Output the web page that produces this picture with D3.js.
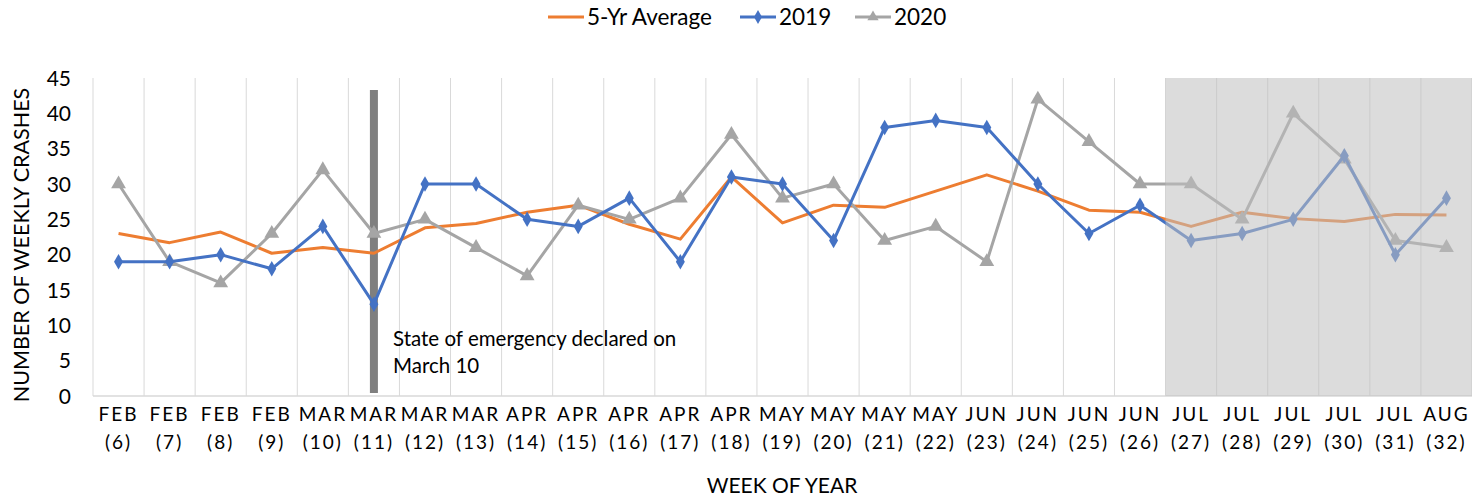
<!DOCTYPE html>
<html>
<head>
<meta charset="utf-8">
<script src="https://cdn.jsdelivr.net/npm/d3@7"></script>
<style>
  body { margin: 0; background: #fff; }
  text { font-family: Lato, "Open Sans", sans-serif; fill: #000; }
</style>
</head>
<body>
<div id="container"></div>
<script>
let w = 1472;
let h = 497;

// week labels (month + week number)
let months = ["FEB","FEB","FEB","FEB","MAR","MAR","MAR","MAR","APR","APR","APR","APR","APR",
  "MAY","MAY","MAY","MAY","JUN","JUN","JUN","JUN","JUL","JUL","JUL","JUL","JUL","AUG"];
let weeks = [6,7,8,9,10,11,12,13,14,15,16,17,18,19,20,21,22,23,24,25,26,27,28,29,30,31,32];

// series
let avg5 = [23,21.7,23.2,20.2,21,20.2,23.8,24.4,26,27,24.3,22.2,31,24.5,27,26.7,29,31.3,29,26.3,26,24,26,25.1,24.7,25.7,25.6];
let y2019 = [19,19,20,18,24,13,30,30,25,24,28,19,31,30,22,38,39,38,30,23,27,22,23,25,34,20,28];
let y2020 = [30,19,16,23,32,23,25,21,17,27,25,28,37,28,30,22,24,19,42,36,30,30,25,40,33.5,22,21];

let yTicks = [0,5,10,15,20,25,30,35,40,45];

let plotLeft = 93, plotRight = 1472, plotTop = 78, plotBottom = 396;

let viz = d3.select("#container")
  .append("svg")
    .attr("width", w)
    .attr("height", h)
    .style("background-color", "white");

let xScale = d3.scaleBand().domain(weeks).range([plotLeft, plotRight]);
let yScale = d3.scaleLinear().domain([0, 45]).range([plotBottom, plotTop]);
let cx = function(d, i){ return xScale(weeks[i]) + xScale.bandwidth() / 2; };

// vertical gridlines at band edges
let edges = weeks.map(function(d){ return xScale(d); }).concat([plotRight]);
viz.append("g").selectAll("line").data(edges).enter().append("line")
  .attr("x1", d => d).attr("x2", d => d)
  .attr("y1", plotTop).attr("y2", plotBottom)
  .attr("stroke", "#d9d9d9").attr("stroke-width", 1);

// baseline
viz.append("line")
  .attr("x1", plotLeft).attr("x2", plotRight)
  .attr("y1", plotBottom).attr("y2", plotBottom)
  .attr("stroke", "#d9d9d9").attr("stroke-width", 1.5);

// y axis labels
viz.append("g").selectAll("text").data(yTicks).enter().append("text")
  .attr("x", 71)
  .attr("y", d => yScale(d) + 7.5)
  .attr("text-anchor", "end")
  .style("font-size", "21px")
  .text(d => d);

viz.append("text")
  .attr("transform", "translate(29," + 245 + ") rotate(-90)")
  .attr("text-anchor", "middle")
  .style("font-size", "21.5px")
  .text("NUMBER OF WEEKLY CRASHES");

// x axis labels, two lines
let xl = viz.append("g").selectAll("g").data(weeks).enter().append("g")
  .attr("transform", (d, i) => "translate(" + cx(d, i) + ",0)");
xl.append("text")
  .attr("y", 421).attr("text-anchor", "middle")
  .style("font-size", "19px").style("letter-spacing", "2px")
  .text((d, i) => months[i]);
xl.append("text")
  .attr("y", 449).attr("text-anchor", "middle")
  .style("font-size", "19px").style("letter-spacing", "2px")
  .text(d => "(" + d + ")");

viz.append("text")
  .attr("x", 782).attr("y", 493)
  .attr("text-anchor", "middle")
  .style("font-size", "21px")
  .text("WEEK OF YEAR");

// state of emergency marker
let emWeek = 11;
viz.append("rect")
  .attr("x", xScale(emWeek) + xScale.bandwidth() / 2 - 4)
  .attr("y", 90)
  .attr("width", 8)
  .attr("height", plotBottom - 3 - 90)
  .attr("fill", "#7f7f7f");

viz.append("text").attr("x", 393).attr("y", 346)
  .style("font-size", "20.5px").text("State of emergency declared on");
viz.append("text").attr("x", 393).attr("y", 373)
  .style("font-size", "20.5px").text("March 10");

let line = d3.line().x(cx).y(d => yScale(d));

viz.append("path").datum(avg5)
  .attr("d", line).attr("fill", "none")
  .attr("stroke", "#ed7d31").attr("stroke-width", 3).attr("stroke-linejoin", "round");

viz.append("path").datum(y2020)
  .attr("d", line).attr("fill", "none")
  .attr("stroke", "#a5a5a5").attr("stroke-width", 3).attr("stroke-linejoin", "round");
viz.append("g").selectAll("path").data(y2020).enter().append("path")
  .attr("d", d3.symbol().type(d3.symbolTriangle).size(95))
  .attr("transform", (d, i) => "translate(" + cx(d, i) + "," + yScale(d) + ")")
  .attr("fill", "#a5a5a5");

viz.append("path").datum(y2019)
  .attr("d", line).attr("fill", "none")
  .attr("stroke", "#4472c4").attr("stroke-width", 3).attr("stroke-linejoin", "round");
viz.append("g").selectAll("path").data(y2019).enter().append("path")
  .attr("d", d3.symbol().type(d3.symbolDiamond).size(70))
  .attr("transform", (d, i) => "translate(" + cx(d, i) + "," + yScale(d) + ")")
  .attr("fill", "#4472c4");

// shaded period on top of lines
let shadeStart = 27;
viz.append("rect")
  .attr("x", xScale(shadeStart))
  .attr("y", plotTop)
  .attr("width", plotRight - xScale(shadeStart))
  .attr("height", plotBottom - plotTop)
  .attr("fill", "#bfbfbf")
  .attr("opacity", 0.55);

// legend
let legend = [
  {name: "5-Yr Average", color: "#ed7d31", sym: null, x: 548},
  {name: "2019", color: "#4472c4", sym: d3.symbolDiamond, x: 740},
  {name: "2020", color: "#a5a5a5", sym: d3.symbolTriangle, x: 855}
];
let lg = viz.append("g").selectAll("g").data(legend).enter().append("g")
  .attr("transform", d => "translate(" + d.x + ",17)");
lg.append("line").attr("x1", 0).attr("x2", 36).attr("y1", 0).attr("y2", 0)
  .attr("stroke", d => d.color).attr("stroke-width", 3);
lg.filter(d => d.sym).append("path")
  .attr("d", d => d3.symbol().type(d.sym).size(55)())
  .attr("transform", "translate(18,0)")
  .attr("fill", d => d.color);
lg.append("text").attr("x", 39).attr("y", 8)
  .style("font-size", "22.5px")
  .text(d => d.name);
</script>
</body>
</html>
